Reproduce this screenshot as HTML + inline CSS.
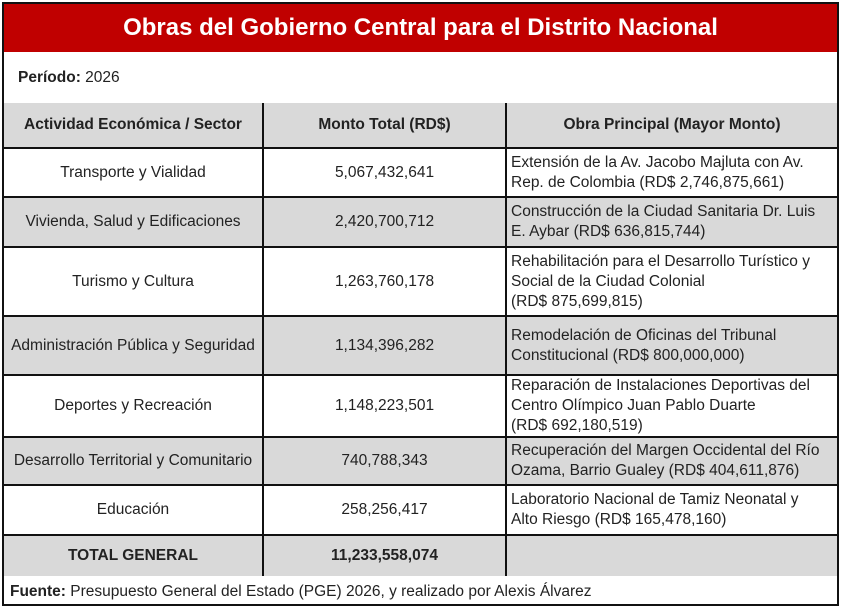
<!DOCTYPE html>
<html><head><meta charset="utf-8"><style>
*{margin:0;padding:0;box-sizing:border-box}
body{width:841px;height:611px;background:#fff;font-family:"Liberation Sans",Arial,sans-serif;color:#222;position:relative;overflow:hidden}
.a{position:absolute}
.t{position:absolute;display:flex;align-items:center;font-size:15.5px;line-height:20px}
.c{justify-content:center;text-align:center}
.g{background:#d9d9d9}
.h{position:absolute;height:2px;background:#111}
.v{position:absolute;width:2px;background:#111}
.o{width:312px!important}
</style></head><body>
<div class="a" style="left:2px;top:2px;width:837px;height:604px;border:2px solid #111"></div>
<div class="t c" style="left:4px;top:4px;width:833px;height:48px;background:#c00000;color:#fff;font-weight:bold;font-size:24px">Obras del Gobierno Central para el Distrito Nacional</div>
<div class="t" style="left:18px;top:66px;height:24px"><b>Período:</b>&nbsp;2026</div>
<div class="a g" style="left:4px;top:103px;width:833px;height:45px"></div>
<div class="a g" style="left:4px;top:197px;width:833px;height:50px"></div>
<div class="a g" style="left:4px;top:316px;width:833px;height:59px"></div>
<div class="a g" style="left:4px;top:437px;width:833px;height:48px"></div>
<div class="a g" style="left:4px;top:535px;width:833px;height:41px"></div>
<div class="h" style="left:4px;top:147px;width:833px"></div>
<div class="h" style="left:4px;top:196px;width:833px"></div>
<div class="h" style="left:4px;top:246px;width:833px"></div>
<div class="h" style="left:4px;top:315px;width:833px"></div>
<div class="h" style="left:4px;top:374px;width:833px"></div>
<div class="h" style="left:4px;top:436px;width:833px"></div>
<div class="h" style="left:4px;top:484px;width:833px"></div>
<div class="h" style="left:4px;top:534px;width:833px"></div>
<div class="v" style="left:262px;top:103px;height:473px"></div>
<div class="v" style="left:505px;top:103px;height:473px"></div>
<div class="t c" style="left:4px;top:103px;width:258px;height:44px;font-weight:bold">Actividad Económica / Sector</div>
<div class="t c" style="left:264px;top:103px;width:241px;height:44px;font-weight:bold">Monto Total (RD$)</div>
<div class="t c" style="left:507px;top:103px;width:330px;height:44px;font-weight:bold">Obra Principal (Mayor Monto)</div>

<div class="t c" style="left:4px;top:149px;width:258px;height:47px">Transporte y Vialidad</div>
<div class="t c" style="left:264px;top:149px;width:241px;height:47px">5,067,432,641</div>
<div class="t o" style="left:511px;top:149px;height:47px">Extensión de la Av. Jacobo Majluta con Av.<br>Rep. de Colombia (RD$ 2,746,875,661)</div>

<div class="t c" style="left:4px;top:198px;width:258px;height:48px">Vivienda, Salud y Edificaciones</div>
<div class="t c" style="left:264px;top:198px;width:241px;height:48px">2,420,700,712</div>
<div class="t o" style="left:511px;top:198px;height:48px">Construcción de la Ciudad Sanitaria Dr. Luis<br>E. Aybar (RD$ 636,815,744)</div>

<div class="t c" style="left:4px;top:248px;width:258px;height:67px">Turismo y Cultura</div>
<div class="t c" style="left:264px;top:248px;width:241px;height:67px">1,263,760,178</div>
<div class="t o" style="left:511px;top:248px;height:67px">Rehabilitación para el Desarrollo Turístico y<br>Social de la Ciudad Colonial<br>(RD$ 875,699,815)</div>

<div class="t c" style="left:4px;top:317px;width:258px;height:57px">Administración Pública y Seguridad</div>
<div class="t c" style="left:264px;top:317px;width:241px;height:57px">1,134,396,282</div>
<div class="t o" style="left:511px;top:317px;height:57px">Remodelación de Oficinas del Tribunal<br>Constitucional (RD$ 800,000,000)</div>

<div class="t c" style="left:4px;top:376px;width:258px;height:60px">Deportes y Recreación</div>
<div class="t c" style="left:264px;top:376px;width:241px;height:60px">1,148,223,501</div>
<div class="t o" style="left:511px;top:376px;height:60px">Reparación de Instalaciones Deportivas del<br>Centro Olímpico Juan Pablo Duarte<br>(RD$ 692,180,519)</div>

<div class="t c" style="left:4px;top:438px;width:258px;height:46px">Desarrollo Territorial y Comunitario</div>
<div class="t c" style="left:264px;top:438px;width:241px;height:46px">740,788,343</div>
<div class="t o" style="left:511px;top:438px;height:46px">Recuperación del Margen Occidental del Río<br>Ozama, Barrio Gualey (RD$ 404,611,876)</div>

<div class="t c" style="left:4px;top:486px;width:258px;height:48px">Educación</div>
<div class="t c" style="left:264px;top:486px;width:241px;height:48px">258,256,417</div>
<div class="t o" style="left:511px;top:486px;height:48px">Laboratorio Nacional de Tamiz Neonatal y<br>Alto Riesgo (RD$ 165,478,160)</div>

<div class="t c" style="left:4px;top:536px;width:258px;height:40px;font-weight:bold">TOTAL GENERAL</div>
<div class="t c" style="left:264px;top:536px;width:241px;height:40px;font-weight:bold">11,233,558,074</div>

<div class="t" style="left:10px;top:580px;height:24px"><b>Fuente:</b>&nbsp;Presupuesto General del Estado (PGE) 2026, y realizado por Alexis Álvarez</div>
</body></html>
